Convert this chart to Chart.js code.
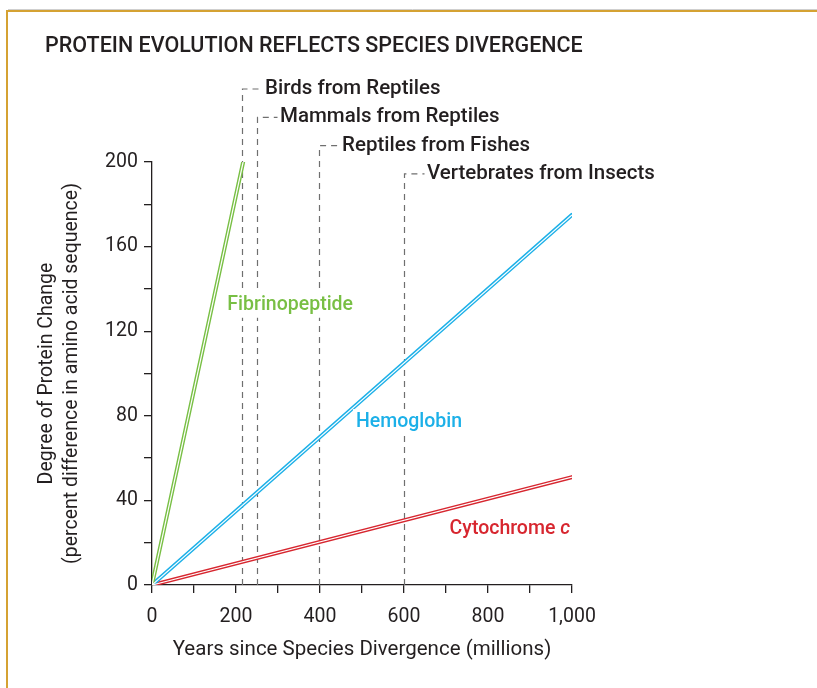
<!DOCTYPE html>
<html>
<head>
<meta charset="utf-8">
<script src="https://cdn.jsdelivr.net/npm/chart.js@4/dist/chart.umd.min.js"></script>
<style>
  html, body { margin: 0; padding: 0; background: #ffffff; }
  canvas { display: block; }
</style>
</head>
<body>
<canvas id="c" width="817" height="688"></canvas>
<script>
// ---- data ----
const chartTitle = 'PROTEIN EVOLUTION REFLECTS SPECIES DIVERGENCE';
const seriesNames = ['Fibrinopeptide', 'Hemoglobin', 'Cytochrome c'];
const fibrinopeptideYears = [0, 217];
const fibrinopeptideChange = [0, 200];
const hemoglobinYears = [0, 1000];
const hemoglobinChange = [0, 175];
const cytochromeYears = [0, 1000];
const cytochromeChange = [0, 51];
const divergenceEvents = ['Birds from Reptiles', 'Mammals from Reptiles', 'Reptiles from Fishes', 'Vertebrates from Insects'];
const divergenceYears = [215, 250, 397, 600];
const xTickValues = [0, 200, 400, 600, 800, 1000];
const xTickLabels = ['0', '200', '400', '600', '800', '1,000'];
const yTickValues = [0, 40, 80, 120, 160, 200];
const yTickLabels = ['0', '40', '80', '120', '160', '200'];
const xAxisTitle = 'Years since Species Divergence (millions)';
const yAxisTitle = ['Degree of Protein Change', '(percent difference in amino acid sequence)'];

// ---- styles ----
const FONT = 'Roboto, "Open Sans", sans-serif';
const INK = '#231f20';
const seriesColors = ['#78bf44', '#1cb0e8', '#d7262f'];
// label anchors (in data units) for series names
const seriesLabelAnchors = [{x: 329, y: 132.5}, {x: 612, y: 77}, {x: 852, y: 26.5}];

function pts(xs, ys) { return xs.map((x, i) => ({x: x, y: ys[i]})); }
const seriesData = [
  pts(fibrinopeptideYears, fibrinopeptideChange),
  pts(hemoglobinYears, hemoglobinChange),
  pts(cytochromeYears, cytochromeChange)
];

const datasets = [];
seriesData.forEach((d, i) => {
  datasets.push({
    label: seriesNames[i], data: d, borderColor: seriesColors[i], borderWidth: 4,
    pointRadius: 0, borderCapStyle: 'round', order: 2, tension: 0
  });
  datasets.push({
    label: seriesNames[i] + ' inner', data: d, borderColor: '#ffffff', borderWidth: 1.2,
    pointRadius: 0, borderCapStyle: 'butt', order: 1, tension: 0
  });
});

const decorPlugin = {
  id: 'decor',
  beforeDraw(chart) {
    const ctx = chart.ctx;
    ctx.save();
    ctx.fillStyle = '#fff';
    ctx.fillRect(0, 0, chart.width, chart.height);
    // frame
    ctx.strokeStyle = '#d5a232';
    ctx.lineWidth = 2;
    ctx.beginPath();
    ctx.moveTo(7, 688);
    ctx.lineTo(7, 11);
    ctx.lineTo(817, 11);
    ctx.stroke();
    ctx.strokeStyle = '#cfcfcf';
    ctx.lineWidth = 1;
    ctx.beginPath();
    ctx.moveTo(8, 9.5);
    ctx.lineTo(817, 9.5);
    ctx.stroke();
    // title
    ctx.fillStyle = INK;
    ctx.font = '500 21.5px ' + FONT;
    ctx.textBaseline = 'middle';
    ctx.textAlign = 'left';
    ctx.fillText(chartTitle, 45, 47);
    ctx.restore();
  },
  beforeDatasetsDraw(chart) {
    const ctx = chart.ctx;
    const xs = chart.scales.x, ys = chart.scales.y;
    const baseY = ys.getPixelForValue(0);
    ctx.save();
    ctx.strokeStyle = '#6f6f6f';
    ctx.lineWidth = 1.2;
    ctx.setLineDash([6, 5]);
    divergenceYears.forEach((yr, i) => {
      const px = Math.round(xs.getPixelForValue(yr)) + 0.5;
      const rowY = 89 + i * 28.3;
      ctx.beginPath();
      ctx.moveTo(px, baseY);
      ctx.lineTo(px, rowY);
      ctx.lineTo(px + 20, rowY);
      ctx.stroke();
    });
    ctx.setLineDash([]);
    ctx.fillStyle = INK;
    ctx.font = '500 20.5px ' + FONT;
    ctx.textBaseline = 'middle';
    ctx.textAlign = 'left';
    divergenceEvents.forEach((t, i) => {
      const px = Math.round(xs.getPixelForValue(divergenceYears[i]));
      ctx.fillText(t, px + 23, 89 + i * 28.3);
    });
    ctx.restore();
  },
  afterDatasetsDraw(chart) {
    const ctx = chart.ctx;
    const xs = chart.scales.x, ys = chart.scales.y;
    ctx.save();
    ctx.textBaseline = 'middle';
    seriesNames.forEach((name, i) => {
      const cx = xs.getPixelForValue(seriesLabelAnchors[i].x);
      const cy = ys.getPixelForValue(seriesLabelAnchors[i].y);
      let parts;
      if (name === 'Cytochrome c') parts = [['Cytochrome ', 'normal'], ['c', 'italic']];
      else parts = [[name, 'normal']];
      let w = 0;
      parts.forEach(p => { ctx.font = p[1] + ' 500 19.5px ' + FONT; w += ctx.measureText(p[0]).width; });
      let x = cx - w / 2;
      ctx.fillStyle = '#fff';
      ctx.fillRect(x - 3, cy - 13, w + 6, 26);
      ctx.fillStyle = seriesColors[i];
      ctx.textAlign = 'left';
      parts.forEach(p => {
        ctx.font = p[1] + ' 500 19.5px ' + FONT;
        ctx.fillText(p[0], x, cy);
        x += ctx.measureText(p[0]).width;
      });
    });
    ctx.restore();
  }
};

new Chart(document.getElementById('c'), {
  type: 'line',
  data: { datasets: datasets },
  plugins: [decorPlugin],
  options: {
    responsive: false,
    devicePixelRatio: 1,
    animation: false,
    layout: { padding: { left: 20, top: 162, right: 245, bottom: 26 } },
    plugins: { legend: { display: false }, tooltip: { enabled: false }, title: { display: false } },
    scales: {
      x: {
        type: 'linear', min: 0, max: 1000,
        afterFit(s) { s.height = 77; },
        afterBuildTicks(s) { s.ticks = Array.from({length: 11}, (_, k) => ({value: k * 100})); },
        ticks: {
          autoSkip: false, maxRotation: 0, padding: 12, color: INK,
          font: { family: FONT, size: 19.5 },
          callback(v) { const k = xTickValues.indexOf(v); return k >= 0 ? xTickLabels[k] : ''; }
        },
        grid: { display: true, drawOnChartArea: false, drawTicks: true, tickLength: 8, color: INK, lineWidth: 1.3 },
        border: { display: true, color: INK, width: 1.3 },
        title: { display: true, text: xAxisTitle, color: INK, font: { family: FONT, size: 20.5 }, padding: 0 }
      },
      y: {
        type: 'linear', min: 0, max: 200,
        afterFit(s) { s.width = 132; },
        afterBuildTicks(s) { s.ticks = Array.from({length: 11}, (_, k) => ({value: k * 20})); },
        ticks: {
          autoSkip: false, padding: 6, color: INK,
          font: { family: FONT, size: 19.5 },
          callback(v) { const k = yTickValues.indexOf(v); return k >= 0 ? yTickLabels[k] : ''; }
        },
        grid: { display: true, drawOnChartArea: false, drawTicks: true, tickLength: 8, color: INK, lineWidth: 1.3 },
        border: { display: true, color: INK, width: 1.3 },
        title: { display: true, text: yAxisTitle, color: INK, font: { family: FONT, size: 19.5, lineHeight: 1.28 }, padding: { top: 15, bottom: 0 } }
      }
    }
  }
});
</script>
</body>
</html>
